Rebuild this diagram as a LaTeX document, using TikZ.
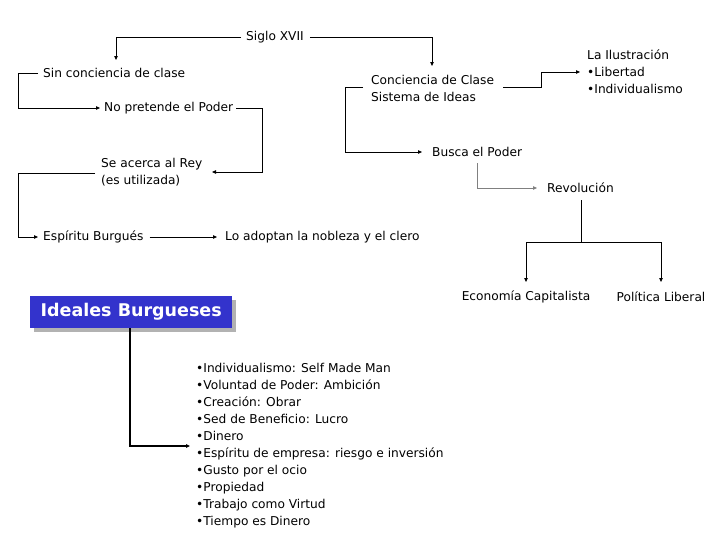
\documentclass[tikz,border=0pt]{standalone}
\usepackage{fontspec}
\setmainfont{DejaVu Sans}
\usetikzlibrary{arrows.meta}
\definecolor{ideablue}{RGB}{51,51,204}
\begin{document}
\begin{tikzpicture}[x=1pt,y=-1pt,
    txt/.style={anchor=west, inner sep=0pt, font=\fontsize{12.2}{17}\selectfont, align=left},
    link/.style={-{Triangle[length=4pt,width=3.5pt]}},
    ]
        \useasboundingbox (0,0) rectangle (728,546);

        \node[txt, anchor=center] (siglo) at (275,37) {Siglo XVII};
        \node[txt] (sin) at (43,73) {Sin conciencia de clase};
        \node[txt] (nopret) at (104,108) {No pretende el Poder};
        \node[txt] (acerca) at (101,172) {Se acerca al Rey\\(es utilizada)};
        \node[txt] (espiritu) at (43,237) {Espíritu Burgués};
        \node[txt] (adoptan) at (225,237) {Lo adoptan la nobleza y el clero};
        \node[txt] (conciencia) at (371,88) {Conciencia de Clase\\Sistema de Ideas};
        \node[txt] (ilus) at (587,72) {La Ilustración\\\textbullet Libertad\\\textbullet Individualismo};
        \node[txt] (busca) at (432,152) {Busca el Poder};
        \node[txt] (revol) at (547,188) {Revolución};
        \node[txt, anchor=center] (econ) at (526,297) {Economía Capitalista};
        \node[txt, anchor=center] (polit) at (661,297) {Política Liberal};

        % box with shadow
        \fill[gray!60] (34,300) rectangle (236,332);
        \node[fill=ideablue, text=white, anchor=north west, minimum width=202pt, minimum height=32pt,
            inner sep=0pt, font=\fontsize{17.5}{19}\selectfont\bfseries] (ideales) at (30,296) {Ideales Burgueses};

        \node[txt] (lista) at (196,446) {\textbullet Individualismo: Self Made Man\\
            \textbullet Voluntad de Poder: Ambición\\
            \textbullet Creación: Obrar\\
            \textbullet Sed de Beneficio: Lucro\\
            \textbullet Dinero\\
            \textbullet Espíritu de empresa: riesgo e inversión\\
            \textbullet Gusto por el ocio\\
            \textbullet Propiedad\\
            \textbullet Trabajo como Virtud\\
            \textbullet Tiempo es Dinero};

        \draw[link] (siglo.west) ++(-5,0) -| (116,60);
        \draw[link] (siglo.east) ++(6,0) -| (432,66);
        \draw[link] (sin.west) ++(-5,0) -- (18,73) |- ([xshift=-4pt]nopret.west);
        \draw[link] (nopret.east) ++(3,0) -- (262,108) |- (212,172);
        \draw[link] (95,173) -- (18,173) |- ([xshift=-5pt]espiritu.west);
        \draw[link] ([xshift=6pt]espiritu.east) -- ([xshift=-8pt]adoptan.west);
        \draw[link] (363,87) -- (345,87) |- ([xshift=-10pt]busca.west);
        \draw[link] (503,87) -- (541,87) |- ([xshift=-7pt]ilus.west);
        \draw[link, gray] (477,163) |- ([xshift=-10pt]revol.west);
        \draw (581,200) -- (581,242);
        \draw[link] (581,242) -| (526,282);
        \draw[link] (581,242) -| (661,282);
        \draw[link, line width=1.6pt] (130,328) |- (190,446);
\end{tikzpicture}
\end{document}
